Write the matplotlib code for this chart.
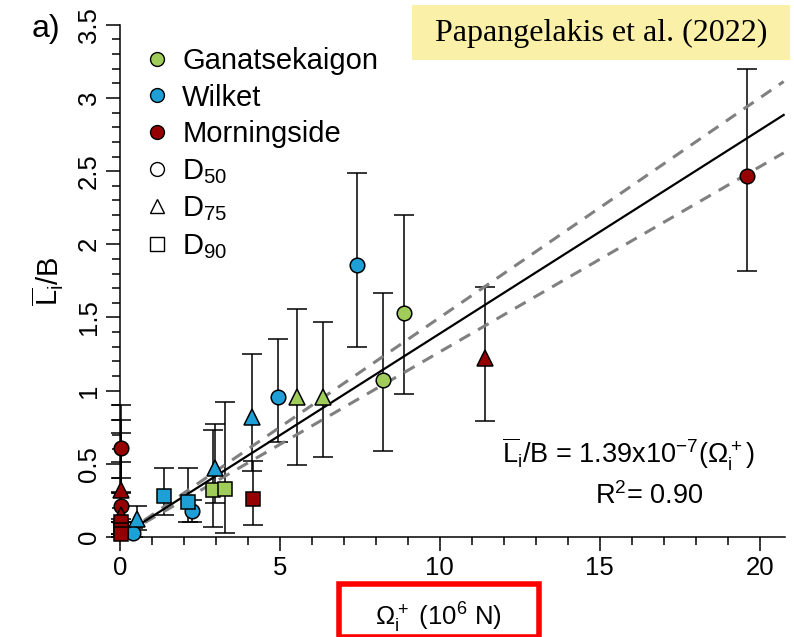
import matplotlib.pyplot as plt
from matplotlib.lines import Line2D
from matplotlib.patches import Rectangle
import numpy as np

plt.rcParams['font.family'] = ['Liberation Sans', 'DejaVu Sans']
plt.rcParams['mathtext.fontset'] = 'custom'
plt.rcParams['mathtext.rm'] = 'Liberation Sans'
plt.rcParams['mathtext.it'] = 'Liberation Sans:italic'
plt.rcParams['mathtext.bf'] = 'Liberation Sans:bold'

# data: x = Omega_i+ (10^6 N), y = mean L_i / B, with lower/upper error limits
sites = ["Ganatsekaigon", "Wilket", "Morningside"]
site_colors = ["#a0cd5a", "#1ea0d7", "#960000"]

gan_grain = ["D50", "D50", "D75", "D75", "D90", "D90"]
gan_x = [8.23, 8.89, 5.54, 6.35, 2.91, 3.29]
gan_y = [1.07, 1.53, 0.96, 0.96, 0.32, 0.33]
gan_lo = [0.59, 0.98, 0.49, 0.55, 0.07, 0.03]
gan_hi = [1.67, 2.20, 1.56, 1.47, 0.73, 0.92]

wil_grain = ["D50", "D50", "D50", "D50", "D75", "D75", "D75", "D90", "D90"]
wil_x = [7.42, 4.93, 2.25, 0.40, 4.13, 2.97, 0.53, 1.38, 2.13]
wil_y = [1.86, 0.96, 0.18, 0.03, 0.82, 0.47, 0.12, 0.28, 0.24]
wil_lo = [1.30, 0.65, 0.10, 0.00, 0.45, 0.23, 0.05, 0.15, 0.10]
wil_hi = [2.49, 1.35, 0.25, 0.06, 1.25, 0.77, 0.21, 0.47, 0.47]

mor_grain = ["D50", "D50", "D50", "D75", "D75", "D75", "D90", "D90", "D90", "D90"]
mor_x = [19.6, 0.05, 0.05, 11.4, 0.03, 0.03, 4.16, 0.03, 0.03, 0.03]
mor_y = [2.47, 0.61, 0.21, 1.22, 0.32, 0.15, 0.26, 0.10, 0.05, 0.02]
mor_lo = [1.82, 0.31, 0.10, 0.79, 0.12, 0.02, 0.08, 0.02, 0.00, 0.00]
mor_hi = [3.20, 0.90, 0.40, 1.71, 0.51, 0.30, 0.52, 0.80, 0.71, 0.10]

fit_slope = 0.139
fit_slope_hi = 0.150
fit_slope_lo = 0.1265
fit_range = [0.2, 20.75]

grain_markers = {"D50": "o", "D75": "^", "D90": "s"}
grain_sizes = {"D50": 10.5, "D75": 11.5, "D90": 9.5}

fig = plt.figure(figsize=(7.94, 6.37), dpi=100)
ax = fig.add_axes([0.151, 0.157, 0.838, 0.804])

site_data = [
    (gan_grain, gan_x, gan_y, gan_lo, gan_hi),
    (wil_grain, wil_x, wil_y, wil_lo, wil_hi),
    (mor_grain, mor_x, mor_y, mor_lo, mor_hi),
]

# fit line and bounds
fx = np.array(fit_range)
ax.plot(fx, fit_slope_hi * fx, color="#808080", lw=2.2, ls=(0, (4, 3)), zorder=2)
ax.plot(fx, fit_slope_lo * fx, color="#808080", lw=2.2, ls=(0, (4, 3)), zorder=2)
ax.plot(fx, fit_slope * fx, color="black", lw=1.6, zorder=3)

for (grain, x, y, lo, hi), color in zip(site_data, site_colors):
    x = np.array(x)
    y = np.array(y)
    yerr = [y - np.array(lo), np.array(hi) - y]
    ax.errorbar(x, y, yerr=yerr, fmt="none", ecolor="black", elinewidth=1.1,
                capsize=7, capthick=1.1, zorder=1, clip_on=False)
    for g in ["D50", "D75", "D90"]:
        idx = [i for i, v in enumerate(grain) if v == g]
        if not idx:
            continue
        ax.plot(x[idx], y[idx], ls="none", marker=grain_markers[g],
                markersize=grain_sizes[g], markerfacecolor=color,
                markeredgecolor="black", markeredgewidth=1.1, zorder=4,
                clip_on=False)

ax.set_xlim(0, 20.8)
ax.set_ylim(0, 3.5)
ax.set_xticks([0, 5, 10, 15, 20])
ax.set_xticks(np.arange(0, 21, 1), minor=True)
ax.set_yticks([0, 0.5, 1, 1.5, 2, 2.5, 3, 3.5])
ax.set_yticklabels(["0", "0.5", "1", "1.5", "2", "2.5", "3", "3.5"])
ax.set_yticks(np.arange(0, 3.51, 0.1), minor=True)
ax.spines["top"].set_visible(False)
ax.spines["right"].set_visible(False)
for s in ["left", "bottom"]:
    ax.spines[s].set_linewidth(1.1)
ax.tick_params(which="major", length=10, width=1.1, labelsize=18.5, direction="out")
ax.tick_params(which="minor", length=6, width=1.1, direction="out")
for lab in ax.get_yticklabels():
    lab.set_rotation(90)
    lab.set_va("center")

ax.set_ylabel(r"$\overline{\mathrm{L}}_\mathrm{i}$/B", fontsize=21, labelpad=8)
ax.set_xlabel(r"$\Omega_\mathrm{i}^+$ (10$^6$ N)", fontsize=18.5)
ax.xaxis.set_label_coords(0.479, -0.125)

# legend
handles = [Line2D([], [], ls="none", marker="o", markersize=10, markerfacecolor=c,
                  markeredgecolor="black", markeredgewidth=1.0) for c in site_colors]
handles += [Line2D([], [], ls="none", marker=m, markersize=10, markerfacecolor="white",
                   markeredgecolor="black", markeredgewidth=1.0) for m in ["o", "^", "s"]]
labels = sites + [r"D$_{50}$", r"D$_{75}$", r"D$_{90}$"]
ax.legend(handles, labels, loc="upper left", bbox_to_anchor=(0.017, 0.98),
          frameon=False, fontsize=21, handletextpad=0.35, labelspacing=0.3,
          handlelength=1.0, borderaxespad=0)

ax.text(0.765, 0.162, r"$\overline{\mathrm{L}}_\mathrm{i}$/B = 1.39x10$^{-7}$($\Omega_\mathrm{i}^+$)",
        transform=ax.transAxes, ha="center", va="center", fontsize=19.5)
ax.text(0.795, 0.08, r"R$^2$= 0.90", transform=ax.transAxes, ha="center",
        va="center", fontsize=19.5)

fig.text(0.058, 0.955, "a)", fontsize=23, ha="center", va="center")

# citation box
fig.patches.append(Rectangle((412 / 794, 1 - 60 / 637), 378 / 794, 55 / 637,
                             transform=fig.transFigure, facecolor="#fbf0a8",
                             edgecolor="none", zorder=0))
fig.text(601 / 794, 1 - 33 / 637, "Papangelakis et al. (2022)", fontsize=23,
         family="Liberation Serif", ha="center", va="center")

# red box around x label
fig.patches.append(Rectangle((339 / 794, 0.0), 200 / 794, 53 / 637,
                             transform=fig.transFigure, facecolor="none",
                             edgecolor="#ff0000", lw=4, zorder=5))

fig.savefig("out.png", dpi=100)
plt.close(fig)
